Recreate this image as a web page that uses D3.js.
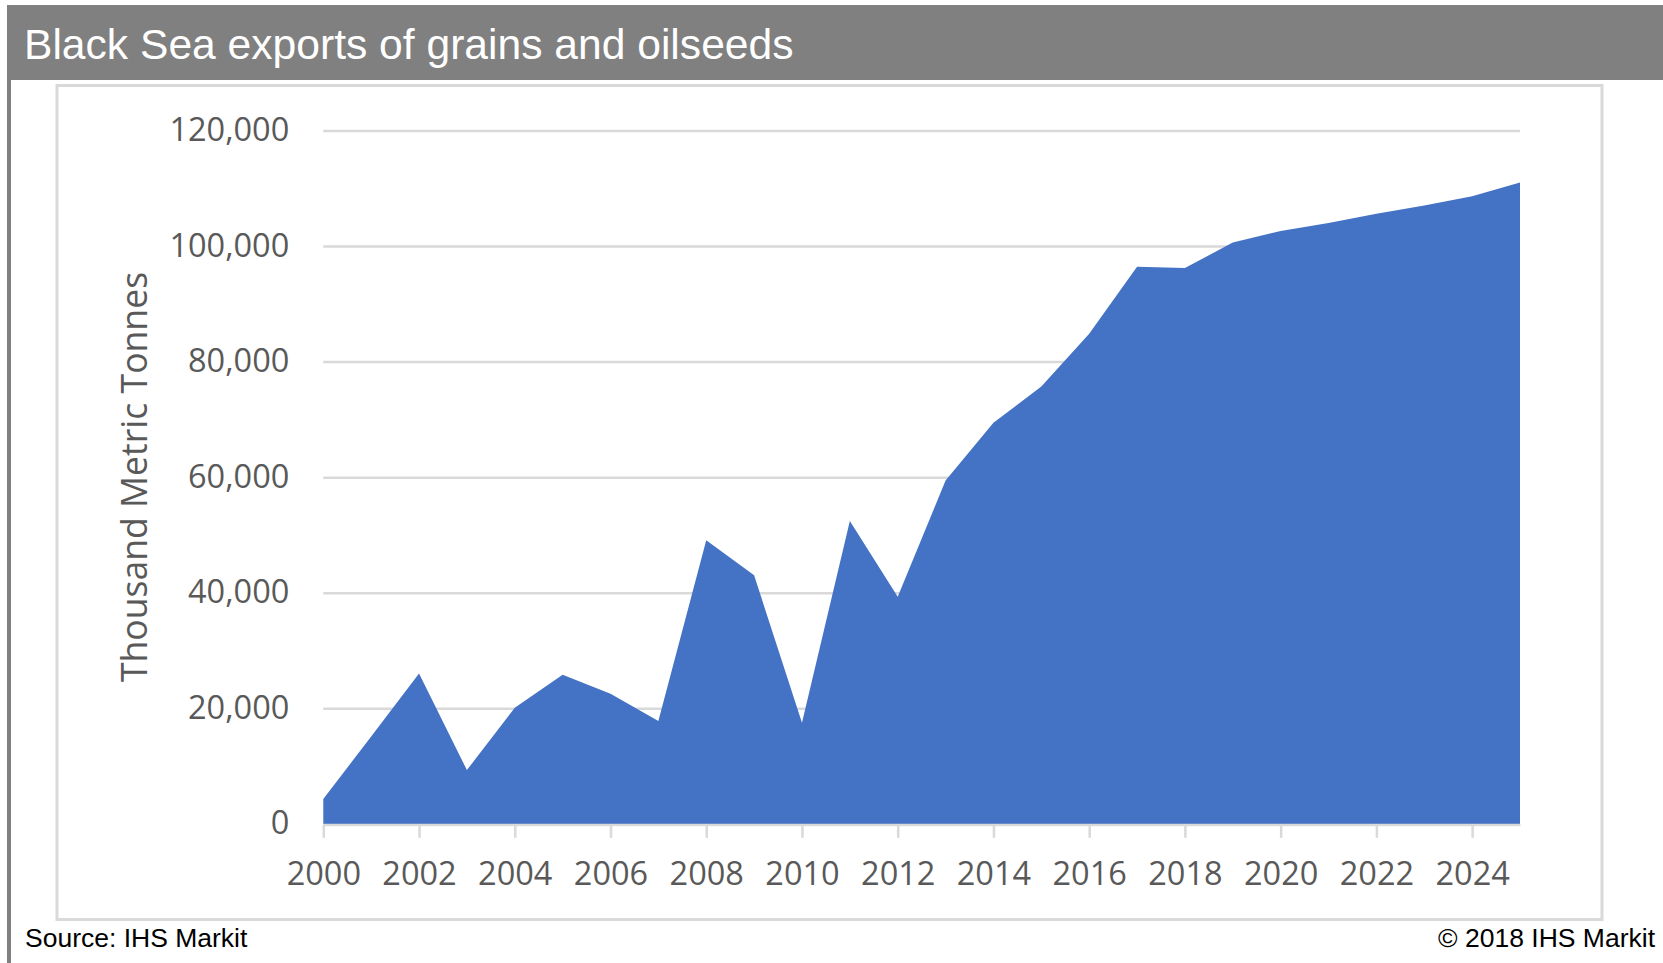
<!DOCTYPE html>
<html>
<head>
<meta charset="utf-8">
<script src="https://cdn.jsdelivr.net/npm/d3@7"></script>
<style>
  html, body { margin: 0; padding: 0; background: #ffffff; }
  svg { display: block; }
</style>
</head>
<body>
<svg id="chart" width="1663" height="963"></svg>
<script>
// ---- Data ----
const years = [2000, 2001, 2002, 2003, 2004, 2005, 2006, 2007, 2008, 2009, 2010, 2011, 2012,
               2013, 2014, 2015, 2016, 2017, 2018, 2019, 2020, 2021, 2022, 2023, 2024, 2025];
const exportsKt = [4300, 15100, 26000, 9300, 20100, 25800, 22500, 17800, 49100, 43000, 17500, 52400, 39300,
                   59400, 69400, 75700, 84800, 96400, 96200, 100600, 102600, 104000, 105600, 107000, 108600, 111000];
const xTickYears = [2000, 2002, 2004, 2006, 2008, 2010, 2012, 2014, 2016, 2018, 2020, 2022, 2024];
const yTickValues = [0, 20000, 40000, 60000, 80000, 100000, 120000];
const titleText = "Black Sea exports of grains and oilseeds";
const yAxisTitle = "Thousand Metric Tonnes";
const sourceText = "Source: IHS Markit";
const copyrightText = "\u00A9 2018 IHS Markit";

const data = years.map((yr, i) => ({ year: yr, value: exportsKt[i] }));

const svg = d3.select("#chart");

// ---- Header bar & left rule ----
svg.append("rect").attr("x", 7).attr("y", 5).attr("width", 1663 - 7).attr("height", 75).attr("fill", "#7f807f");
svg.append("rect").attr("x", 7).attr("y", 5).attr("width", 4).attr("height", 963 - 5).attr("fill", "#7f807f");
svg.append("text")
  .attr("x", 24).attr("y", 59)
  .attr("fill", "#ffffff")
  .style("font-family", "'Liberation Sans', Arial, sans-serif")
  .style("font-size", "42.6px")
  .text(titleText);

// ---- Chart frame ----
svg.append("rect")
  .attr("x", 57).attr("y", 85.5).attr("width", 1602 - 57).attr("height", 919.5 - 85.5)
  .attr("fill", "#ffffff").attr("stroke", "#d9d9d9").attr("stroke-width", 3);

// ---- Scales ----
const x0 = 323.3, x1 = 1520, yBase = 823.8, yTop = 130.5;
const x = d3.scaleLinear().domain([2000, 2025]).range([x0, x1]);
const y = d3.scaleLinear().domain([0, 120000]).range([yBase, yTop]);

const axisFont = "'Open Sans', 'Noto Sans', sans-serif";
const axisColor = "#595959";

// ---- Gridlines ----
const grid = svg.append("g").attr("transform", `translate(${x0},0)`)
  .call(d3.axisLeft(y).tickValues(yTickValues).tickSize(-(x1 - x0)).tickFormat(""));
grid.select(".domain").remove();
grid.selectAll("line").attr("stroke", "#d9d9d9").attr("stroke-width", 2.5);

// ---- Area ----
const area = d3.area()
  .x(d => x(d.year))
  .y0(y(0))
  .y1(d => y(d.value));
svg.append("path").datum(data).attr("d", area).attr("fill", "#4472c4");

// ---- Y axis labels ----
const yAxis = svg.append("g").attr("transform", `translate(${x0},0)`)
  .call(d3.axisLeft(y).tickValues(yTickValues).tickFormat(d3.format(",")).tickSize(0).tickPadding(34));
yAxis.select(".domain").remove();
yAxis.selectAll("text")
  .attr("fill", axisColor)
  .attr("dy", "0.31em")
  .style("font-family", axisFont)
  .style("font-size", "32.5px");

// ---- X axis ----
const xAxis = svg.append("g").attr("transform", `translate(0,${yBase + 1})`)
  .call(d3.axisBottom(x).tickValues(xTickYears).tickFormat(d3.format("d")).tickSizeInner(13).tickSizeOuter(0).tickPadding(24));
xAxis.select(".domain").attr("stroke", "#d9d9d9").attr("stroke-width", 2);
xAxis.selectAll("line").attr("stroke", "#d9d9d9").attr("stroke-width", 2.5);
xAxis.selectAll("text")
  .attr("fill", axisColor)
  .style("font-family", axisFont)
  .style("font-size", "32.5px");

// ---- Y axis title ----
svg.append("text")
  .attr("transform", "translate(147,477) rotate(-90)")
  .attr("text-anchor", "middle")
  .attr("fill", axisColor)
  .style("font-family", axisFont)
  .style("font-size", "35.6px")
  .text(yAxisTitle);

// ---- Footer ----
svg.append("text")
  .attr("x", 25).attr("y", 947)
  .attr("fill", "#000000")
  .style("font-family", "'Liberation Sans', Arial, sans-serif")
  .style("font-size", "26.5px")
  .text(sourceText);
svg.append("text")
  .attr("x", 1655).attr("y", 947)
  .attr("text-anchor", "end")
  .attr("fill", "#000000")
  .style("font-family", "'Liberation Sans', Arial, sans-serif")
  .style("font-size", "26.5px")
  .text(copyrightText);
</script>
</body>
</html>
